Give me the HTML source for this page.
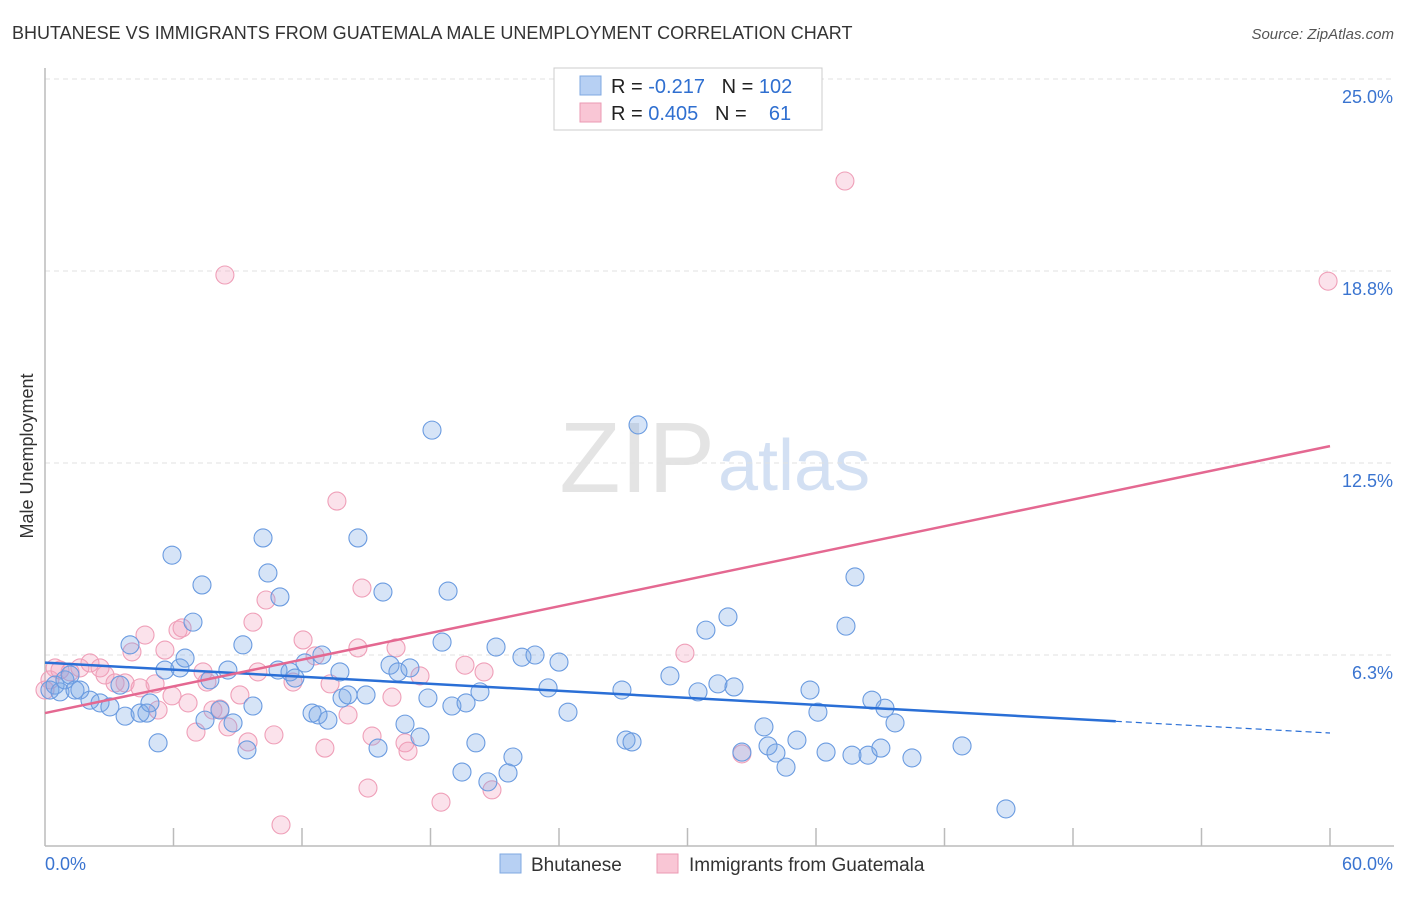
<!DOCTYPE html>
<html><head><meta charset="utf-8"><style>
body{margin:0;background:#fff;font-family:"Liberation Sans",sans-serif;}
svg text{font-family:"Liberation Sans",sans-serif;}
</style></head><body>
<svg id="chart" width="1406" height="892">
<text x="12" y="39" font-size="18" fill="#333">BHUTANESE VS IMMIGRANTS FROM GUATEMALA MALE UNEMPLOYMENT CORRELATION CHART</text>
<text x="1394" y="39" font-size="15" fill="#555" font-style="italic" text-anchor="end">Source: ZipAtlas.com</text>
<text x="715" y="492" font-size="100" fill="#e4e4e4" text-anchor="end" font-family="Liberation Serif">ZIP</text>
<text x="718" y="490" font-size="72" fill="#d3e0f3">atlas</text>
<text transform="translate(33,456) rotate(-90)" font-size="18" fill="#333" text-anchor="middle">Male Unemployment</text>
<g id="grid"></g><g id="axes"></g><g id="marks"></g>
<g>
<rect x="554" y="68" width="268" height="62" fill="#fff" stroke="#ccc"/>
<rect x="580" y="76" width="21" height="19" fill="#b7d0f3" stroke="#7fa8e2"/>
<rect x="580" y="103" width="21" height="19" fill="#f9c6d5" stroke="#eb9ab3"/>
<text x="611" y="93" font-size="20" fill="#222">R = <tspan fill="#2f6fd0">-0.217</tspan>&#160;&#160;&#160;N = <tspan fill="#2f6fd0">102</tspan></text>
<text x="611" y="120" font-size="20" fill="#222">R = <tspan fill="#2f6fd0">0.405</tspan>&#160;&#160;&#160;N = <tspan fill="#2f6fd0">&#160;&#160;&#160;61</tspan></text>
</g>
<g>
<rect x="500" y="854" width="21" height="19" fill="#b7d0f3" stroke="#7fa8e2"/>
<text x="531" y="871" font-size="19" fill="#333">Bhutanese</text>
<rect x="657" y="854" width="21" height="19" fill="#f9c6d5" stroke="#eb9ab3"/>
<text x="689" y="871" font-size="19" fill="#333">Immigrants from Guatemala</text>
</g>
</svg>
<script>
const blueX=[0.23,0.47,0.70,0.93,1.17,1.40,1.63,2.10,2.57,3.03,3.50,3.74,3.97,4.44,4.76,4.90,5.28,5.60,5.93,6.30,6.54,6.91,7.33,7.47,7.70,8.17,8.54,8.78,9.24,9.43,9.71,10.18,10.41,10.97,10.88,11.44,11.67,12.14,12.47,12.75,12.93,13.21,13.77,13.87,14.15,14.61,14.99,15.55,15.78,16.11,16.48,16.81,17.04,17.51,17.88,18.07,18.54,18.82,19.00,19.47,19.66,20.12,20.31,20.68,21.06,21.62,21.85,22.27,22.88,23.49,24.00,24.42,26.94,27.13,27.41,27.69,29.18,30.49,30.86,31.42,31.89,32.17,32.54,33.57,33.76,34.13,34.60,35.11,35.72,36.09,36.47,37.40,37.68,37.82,38.43,38.61,39.03,39.22,39.69,40.48,42.82,44.87];
const blueY=[5.11,5.27,5.05,5.44,5.60,5.11,5.11,4.78,4.69,4.56,5.27,4.26,6.58,4.36,4.36,4.69,3.39,5.76,9.50,5.83,6.15,7.32,8.53,4.13,5.44,4.46,5.76,4.04,6.58,3.16,4.59,10.06,8.92,8.14,5.76,5.70,5.50,5.99,4.36,4.30,6.25,4.13,5.70,4.85,4.95,10.06,4.95,3.22,8.30,5.92,5.70,4.00,5.83,3.58,4.85,13.57,6.67,8.33,4.59,2.44,4.69,3.39,5.05,2.12,6.51,2.41,2.93,6.18,6.25,5.18,6.02,4.39,5.11,3.48,3.42,13.74,5.57,5.05,7.06,5.31,7.49,5.21,3.09,3.91,3.29,3.06,2.60,3.48,5.11,4.39,3.09,7.19,2.99,8.79,2.99,4.78,3.22,4.52,4.04,2.90,3.29,1.24];
const pinkX=[0,0.23,0.47,0.70,1.17,1.63,2.10,2.57,2.80,3.27,3.74,4.06,4.44,4.67,5.14,5.28,5.60,5.93,6.21,6.40,6.68,7.05,7.38,7.56,7.84,8.17,8.40,8.54,9.10,9.48,9.71,9.94,10.32,10.69,11.02,11.58,12.05,12.61,13.07,13.31,13.63,14.15,14.61,14.80,15.27,15.08,16.20,16.39,16.81,16.95,17.51,18.49,19.61,20.50,20.87,29.88,32.54,37.35,59.91];
const pinkY=[5.11,5.44,5.83,5.76,5.70,5.83,5.99,5.83,5.60,5.34,5.34,6.35,5.18,6.90,5.31,4.46,6.41,4.92,7.06,7.13,4.69,3.74,5.70,5.37,4.46,4.49,18.62,3.91,4.95,3.42,7.32,5.70,8.04,3.65,0.72,5.37,6.74,6.22,3.22,5.31,11.26,4.30,6.48,8.43,3.61,1.92,4.88,6.48,3.39,3.12,5.57,1.46,5.92,5.70,1.86,6.31,3.03,21.68,18.42];
const blueTrend=[6.00,3.71];
const pinkTrend=[4.36,13.05];
const yTicks=[6.25,12.5,18.75,25];
const yTickLabels=["6.3%","12.5%","18.8%","25.0%"];
const xTickCount=10;

const NS="http://www.w3.org/2000/svg";
const X0=45,X1=1330,Y0=847,Ypx=192/6.25;
const sx=v=>X0+(v/60)*(X1-X0);
const sy=v=>Y0-v*Ypx;
function mk(tag,attrs,parent){const e=document.createElementNS(NS,tag);for(const k in attrs)e.setAttribute(k,attrs[k]);parent.appendChild(e);return e;}
const grid=document.getElementById('grid'),axes=document.getElementById('axes'),marks=document.getElementById('marks');
yTicks.forEach((t,i)=>{
  const l=mk('line',{x1:X0,x2:1394,y1:sy(t),y2:sy(t),stroke:'#e2e2e2','stroke-dasharray':'5,4'},grid);
  
  
  const tx=mk('text',{x:1393,y:sy(t)+24,'font-size':18,fill:'#3a74d0','text-anchor':'end'},axes);
  tx.textContent=yTickLabels[i];
  
  
});
const ya=mk('line',{x1:X0,x2:X0,y1:68,y2:846,stroke:'#bbb','stroke-width':1.5},axes);


const xa=mk('line',{x1:X0,x2:1394,y1:846,y2:846,stroke:'#bbb','stroke-width':1.5},axes);


for(let i=1;i<=xTickCount;i++){
  const x=sx(60*i/xTickCount);
  const t=mk('line',{x1:x,x2:x,y1:828,y2:846,stroke:'#bbb','stroke-width':1.5},axes);
  
  
}
const xl0=mk('text',{x:45,y:870,'font-size':18,fill:'#3a74d0'},axes);xl0.textContent='0.0%';


const xl1=mk('text',{x:1393,y:870,'font-size':18,fill:'#3a74d0','text-anchor':'end'},axes);xl1.textContent='60.0%';



pinkX.forEach((v,i)=>{
  const c=mk('circle',{cx:sx(v),cy:sy(pinkY[i]),r:9,fill:'rgba(243,160,188,0.3)',stroke:'#ef9fb8','stroke-width':1.1},marks);
  
  
});
blueX.forEach((v,i)=>{
  const c=mk('circle',{cx:sx(v),cy:sy(blueY[i]),r:9,fill:'rgba(120,165,230,0.3)',stroke:'#6a9be0','stroke-width':1.1},marks);
  
  
});
const bEnd=50;
const bMid=blueTrend[0]+(blueTrend[1]-blueTrend[0])*bEnd/60;
const bl=mk('line',{x1:sx(0),y1:sy(blueTrend[0]),x2:sx(bEnd),y2:sy(bMid),stroke:'#2a6fd6','stroke-width':2.5},marks);


const bd=mk('line',{x1:sx(bEnd),y1:sy(bMid),x2:sx(60),y2:sy(blueTrend[1]),stroke:'#2a6fd6','stroke-width':1.2,'stroke-dasharray':'6,4'},marks);


const pl=mk('line',{x1:sx(0),y1:sy(pinkTrend[0]),x2:sx(60),y2:sy(pinkTrend[1]),stroke:'#e46891','stroke-width':2.5},marks);


</script>
</body></html>
